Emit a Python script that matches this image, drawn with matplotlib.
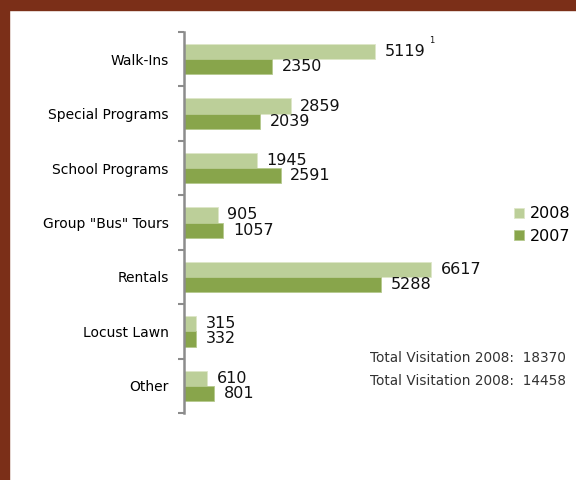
import matplotlib.pyplot as plt
from matplotlib.patches import Rectangle

categories = ['Walk-Ins', 'Special Programs', 'School Programs', 'Group "Bus" Tours',
              'Rentals', 'Locust Lawn', 'Other']
visits_2008 = [5119, 2859, 1945, 905, 6617, 315, 610]
visits_2007 = [2350, 2039, 2591, 1057, 5288, 332, 801]
totals = [('Total Visitation 2008:', 18370), ('Total Visitation 2008:', 14458)]

color_2008 = '#BCCF99'
color_2007 = '#88A54B'
brown = '#7B2F18'

fig = plt.figure(figsize=(5.76, 4.8), dpi=100)
fig.patch.set_facecolor('white')

# brown frame on top and left
fig.patches.append(Rectangle((0, 1 - 10 / 480), 1, 10 / 480, transform=fig.transFigure,
                             color=brown, zorder=0))
fig.patches.append(Rectangle((0, 0), 9 / 576, 1, transform=fig.transFigure,
                             color=brown, zorder=0))

ax = fig.add_axes([184 / 576, 67 / 480, 373 / 576, 381 / 480])

y = list(range(len(categories)))
h = 0.28
y08 = [v - h / 2 for v in y]
y07 = [v + h / 2 for v in y]
ax.barh(y08, visits_2008, height=h, color=color_2008, edgecolor='#DDE6C8', linewidth=0.6,
        label='2008')
ax.barh(y07, visits_2007, height=h, color=color_2007, edgecolor='#B5C98E', linewidth=0.6,
        label='2007')

for yy, v in zip(y08, visits_2008):
    ax.annotate(str(v), (v, yy), xytext=(7, 0), textcoords='offset points',
                va='center', ha='left', fontsize=11.5, color='#111111')
for yy, v in zip(y07, visits_2007):
    ax.annotate(str(v), (v, yy), xytext=(7, 0), textcoords='offset points',
                va='center', ha='left', fontsize=11.5, color='#111111')

# footnote mark on Walk-Ins 2008
ax.annotate('1', (visits_2008[0], y08[0]), xytext=(39, 8), textcoords='offset points',
            va='center', ha='left', fontsize=6, color='#111111')

ax.set_xlim(0, 10000)
ax.set_ylim(len(categories) - 0.5, -0.5)

ax.set_yticks(y)
ax.set_yticklabels(categories, fontsize=10)
ax.tick_params(axis='y', which='major', length=0, pad=11)
ax.set_yticks([v - 0.5 for v in range(len(categories) + 1)], minor=True)
ax.tick_params(axis='y', which='minor', length=4, width=1.5, color='#8C8C8C')
ax.set_xticks([])

for s in ['top', 'right', 'bottom']:
    ax.spines[s].set_visible(False)
ax.spines['left'].set_color('#8C8C8C')
ax.spines['left'].set_linewidth(1.8)

leg = fig.legend(loc='upper left', bbox_to_anchor=(500 / 576, 1 - 192 / 480), frameon=False,
                 fontsize=11.5, handlelength=0.6, handleheight=0.6, handletextpad=0.4,
                 labelspacing=0.45)

for i, (lbl, val) in enumerate(totals):
    fig.text(370 / 576, 1 - (358 + 23 * i) / 480, f'{lbl}  {val}', fontsize=9.8,
             color='#333333', va='center', ha='left')

fig.savefig('out.png', dpi=100)
